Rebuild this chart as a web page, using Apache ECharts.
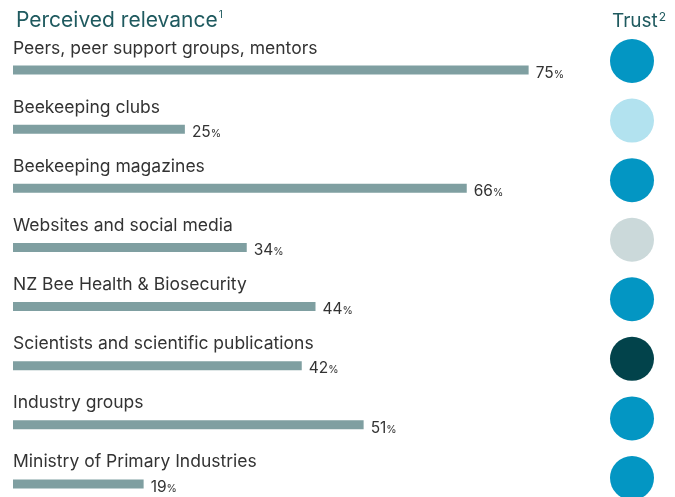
<!DOCTYPE html>
<html><head><meta charset="utf-8">
<script src="https://cdn.jsdelivr.net/npm/echarts@6/dist/echarts.min.js"></script>
<style>html,body{margin:0;padding:0;background:#fff}#c{width:675px;height:497px}</style>
</head><body><div id="c"></div>
<script>
const categories = [
  'Peers, peer support groups, mentors',
  'Beekeeping clubs',
  'Beekeeping magazines',
  'Websites and social media',
  'NZ Bee Health & Biosecurity',
  'Scientists and scientific publications',
  'Industry groups',
  'Ministry of Primary Industries'
];
const relevance = [75, 25, 66, 34, 44, 42, 51, 19];
const trustLevel = ['High', 'Low', 'High', 'Neutral', 'High', 'Very high', 'High', 'High'];
const trustColors = { 'Very high': '#02434b', 'High': '#0396c3', 'Low': '#b2e2ef', 'Neutral': '#cbd9da' };

const FONT = 'Inter, "Noto Sans", sans-serif';
const chart = echarts.init(document.getElementById('c'));
chart.setOption({
  animation: false,
  title: [
    { text: 'Perceived relevance{s|1}', left: 11, top: 5,
      textStyle: { fontFamily: FONT, fontSize: 21, fontWeight: 'normal', color: '#1f5a5f',
        rich: { s: { fontFamily: FONT, fontSize: 10, color: '#1f5a5f', padding: [0,0,12,1] } } } },
    { text: 'Trust{s|2}', left: 607, top: 6,
      textStyle: { fontFamily: FONT, fontSize: 19, fontWeight: 'normal', color: '#1f5a5f',
        rich: { s: { fontFamily: FONT, fontSize: 12, color: '#1f5a5f', padding: [0,0,8,1] } } } }
  ],
  grid: [
    { left: 13, top: 70, width: 550, height: 414 },
    { left: 600, top: 61, width: 64, height: 417 },
    { left: 13, top: 49, width: 500, height: 413 }
  ],
  xAxis: [
    { gridIndex: 0, type: 'value', min: 0, max: 80, show: false },
    { gridIndex: 1, type: 'value', min: 0, max: 1, show: false },
    { gridIndex: 2, type: 'value', min: 0, max: 1, show: false }
  ],
  yAxis: [
    { gridIndex: 0, type: 'category', data: categories, inverse: true, boundaryGap: false, show: false },
    { gridIndex: 1, type: 'category', data: categories, inverse: true, boundaryGap: false, show: false },
    { gridIndex: 2, type: 'category', data: categories, inverse: true, boundaryGap: false,
      axisLine: { show: false }, axisTick: { show: false }, splitLine: { show: false },
      axisLabel: { inside: true, align: 'left', verticalAlign: 'middle', margin: 0,
        fontFamily: FONT, fontSize: 17.5, color: '#333' } }
  ],
  series: [
    { type: 'bar', xAxisIndex: 0, yAxisIndex: 0, data: relevance, barWidth: 9,
      itemStyle: { color: '#7f9fa1' },
      label: { show: true, position: 'right', distance: 7, offset: [0, 3],
        formatter: p => p.value + '{p|%}',
        fontFamily: FONT, fontSize: 15.5, color: '#333',
        rich: { p: { fontFamily: FONT, fontSize: 10.5, color: '#333', padding: [3, 0, 0, 0] } } } },
    { type: 'scatter', xAxisIndex: 1, yAxisIndex: 1, symbolSize: 44,
      data: trustLevel.map((t, i) => ({ value: [0.5, categories[i]], trust: t,
        itemStyle: { color: trustColors[t], opacity: 1 } })) }
  ]
});
</script></body></html>
